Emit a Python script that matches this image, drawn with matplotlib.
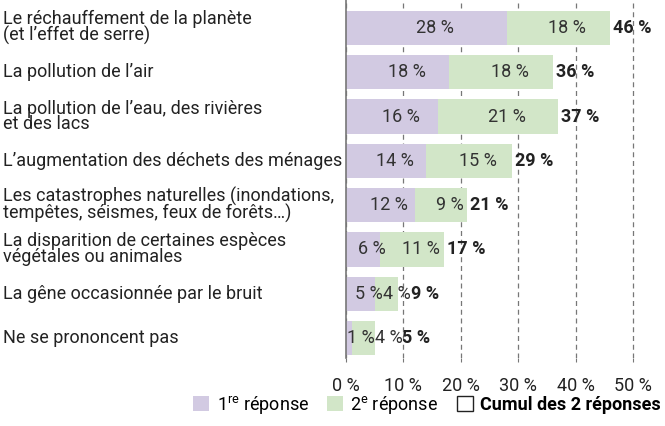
import matplotlib
matplotlib.use("Agg")
import matplotlib.pyplot as plt
import matplotlib.transforms as mtransforms
from matplotlib.patches import Patch

categories = [
    "Le réchauffement de la planète\n(et l’effet de serre)",
    "La pollution de l’air",
    "La pollution de l’eau, des rivières\net des lacs",
    "L’augmentation des déchets des ménages",
    "Les catastrophes naturelles (inondations,\ntempêtes, séismes, feux de forêts…)",
    "La disparition de certaines espèces\nvégétales ou animales",
    "La gêne occasionnée par le bruit",
    "Ne se prononcent pas",
]
first = [28, 18, 16, 14, 12, 6, 5, 1]
second = [18, 18, 21, 15, 9, 11, 4, 4]
total = [46, 36, 37, 29, 21, 17, 9, 5]
xticks = [0, 10, 20, 30, 40, 50]
xticklabels = ["0 %", "10 %", "20 %", "30 %", "40 %", "50 %"]
legend_labels = ["1$^{\\mathregular{re}}$ réponse", "2$^{\\mathregular{e}}$ réponse", "Cumul des 2 réponses"]

purple = "#d2cae2"
green = "#d2e6c8"
fs = 13

plt.rcParams['font.family'] = ['Roboto', 'DejaVu Sans']

fig = plt.figure(figsize=(6.65, 4.26), dpi=100)
x0, x50, xr = 346, 633, 645
ax = fig.add_axes([x0/665, 1 - 358/426, (xr-x0)/665, 358/426])

y = list(range(len(categories)))
ax.barh(y, first, height=0.77, color=purple, zorder=2)
ax.barh(y, second, left=first, height=0.77, color=green, zorder=2)

ax.set_xlim(0, 50 * (xr - x0) / (x50 - x0))
ax.set_ylim(7.45, -0.63)

fig.canvas.draw()
renderer = fig.canvas.get_renderer()
ppu = ax.transData.transform((1, 0))[0] - ax.transData.transform((0, 0))[0]  # pixels per unit

def width_units(s, **kw):
    t = ax.text(0, 0, s, fontsize=fs, **kw)
    w = t.get_window_extent(renderer).width
    t.remove()
    return w / ppu

for i in y:
    # first segment label: number centred, " %" trailing
    s1 = f"{first[i]} %"
    xl1 = first[i] / 2 - width_units(str(first[i])) / 2
    xl1 = max(xl1, 1 / ppu)
    w1 = width_units(s1)
    ax.text(xl1, i, s1, ha='left', va='center', fontsize=fs, color='#333333', zorder=3)
    end1 = xl1 + w1
    s2 = f"{second[i]} %"
    xl2 = first[i] + second[i] / 2 - width_units(str(second[i])) / 2
    xl2 = max(xl2, end1)
    w2 = width_units(s2)
    ax.text(xl2, i, s2, ha='left', va='center', fontsize=fs, color='#333333', zorder=3)
    end2 = xl2 + w2
    xl3 = max(first[i] + second[i] + 3 / ppu, end2)
    ax.text(xl3, i, f"{total[i]} %", ha='left', va='center', fontsize=fs,
            fontweight='bold', color='#222222', zorder=3, clip_on=False)

trans = mtransforms.blended_transform_factory(fig.transFigure, ax.transData)
for i, c in enumerate(categories):
    ax.text(3/665, i, c, transform=trans, ha='left', va='center', fontsize=fs, color='#222222', linespacing=0.85)

ax.set_yticks([])
ax.set_xticks(xticks)
ax.set_xticklabels(xticklabels, fontsize=fs, color='#222222')
offset = mtransforms.ScaledTranslation(6/100, 0, fig.dpi_scale_trans)
for lab in ax.get_xticklabels():
    lab.set_transform(lab.get_transform() + offset)
ax.tick_params(axis='x', length=3, color='#777777', pad=11)
ax.grid(axis='x', linestyle=(0, (4, 3)), color='#777777', linewidth=0.9, zorder=0)
for s in ['top', 'right', 'bottom']:
    ax.spines[s].set_visible(False)
ax.spines['left'].set_color('#777777')
ax.spines['left'].set_linewidth(1.2)

handles = [Patch(facecolor=purple, edgecolor='none'),
           Patch(facecolor=green, edgecolor='none'),
           Patch(facecolor='white', edgecolor='#222222', linewidth=1)]
leg = fig.legend(handles, legend_labels, loc='center', bbox_to_anchor=(0.642, 0.049), ncol=3,
                 frameon=False, fontsize=fs, handlelength=0.9, handleheight=0.9,
                 handletextpad=0.4, columnspacing=1.0, borderaxespad=0)
leg.get_texts()[2].set_fontweight('bold')

fig.savefig("out.png", dpi=100)
